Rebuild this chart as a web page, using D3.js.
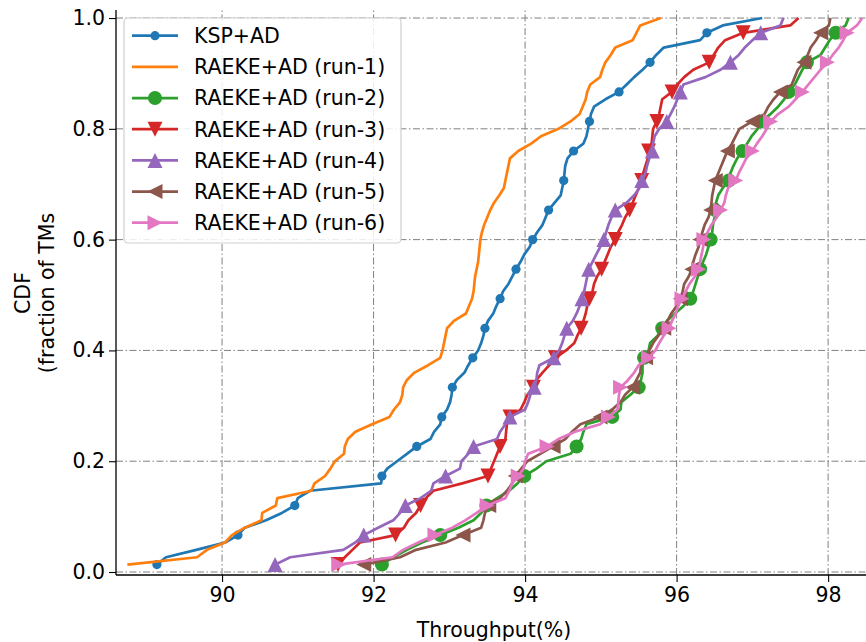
<!DOCTYPE html>
<html>
<head>
<meta charset="utf-8">
<script src="https://cdn.jsdelivr.net/npm/d3@7"></script>
<style>
  html, body { margin: 0; padding: 0; background: #fff; }
  svg { display: block; font-family: "DejaVu Sans", sans-serif; }
</style>
</head>
<body>
<svg id="chart" width="866" height="642"></svg>
<script>
// ---- data: sorted throughput values per TM (75 TMs each), CDF y = (i+1)/75 ----
const seriesNames = ["KSP+AD", "RAEKE+AD (run-1)", "RAEKE+AD (run-2)", "RAEKE+AD (run-3)",
                     "RAEKE+AD (run-4)", "RAEKE+AD (run-5)", "RAEKE+AD (run-6)"];

const kspAD = [89.14, 89.26, 89.66, 90.04, 90.21, 90.30, 90.58, 90.79, 90.96, 91.00,
  91.16, 92.10, 92.11, 92.18, 92.31, 92.44, 92.57, 92.75, 92.80, 92.88,
  92.90, 92.97, 93.01, 93.03, 93.04, 93.10, 93.20, 93.25, 93.31, 93.38,
  93.42, 93.45, 93.47, 93.51, 93.58, 93.62, 93.67, 93.71, 93.78, 93.83,
  93.88, 93.94, 93.99, 94.06, 94.10, 94.16, 94.23, 94.27, 94.31, 94.39,
  94.47, 94.49, 94.51, 94.52, 94.53, 94.56, 94.64, 94.77, 94.81, 94.83,
  94.85, 94.87, 94.91, 95.06, 95.24, 95.34, 95.44, 95.55, 95.65, 95.73,
  95.83, 96.31, 96.40, 96.61, 97.13];

const run1 = [88.75, 89.67, 89.80, 90.04, 90.13, 90.30, 90.52, 90.53, 90.71, 90.73,
  91.18, 91.22, 91.36, 91.43, 91.49, 91.61, 91.62, 91.66, 91.76, 91.98,
  92.21, 92.27, 92.35, 92.38, 92.39, 92.44, 92.54, 92.72, 92.88, 92.91,
  92.93, 92.95, 92.97, 93.06, 93.22, 93.26, 93.30, 93.32, 93.33, 93.34,
  93.36, 93.38, 93.39, 93.40, 93.41, 93.43, 93.46, 93.50, 93.54, 93.59,
  93.66, 93.72, 93.74, 93.76, 93.78, 93.80, 93.91, 94.08, 94.21, 94.44,
  94.60, 94.72, 94.76, 94.80, 94.82, 94.86, 94.99, 95.02, 95.06, 95.13,
  95.19, 95.42, 95.47, 95.52, 95.79];

const run2 = [92.11, 92.26, 92.44, 92.64, 92.88, 93.12, 93.32, 93.42, 93.49, 93.63,
  93.79, 93.90, 93.99, 94.15, 94.28, 94.60, 94.68, 94.74, 94.77, 94.81,
  95.15, 95.26, 95.27, 95.39, 95.50, 95.53, 95.55, 95.55, 95.57, 95.63,
  95.65, 95.75, 95.81, 95.87, 95.98, 96.09, 96.18, 96.22, 96.25, 96.28,
  96.31, 96.35, 96.39, 96.42, 96.45, 96.47, 96.48, 96.50, 96.51, 96.52,
  96.55, 96.61, 96.69, 96.71, 96.75, 96.80, 96.87, 96.93, 96.99, 97.07,
  97.11, 97.24, 97.34, 97.42, 97.48, 97.56, 97.61, 97.66, 97.72, 97.90,
  97.96, 98.02, 98.10, 98.23, 98.27];

const run3 = [91.53, 91.62, 91.72, 91.82, 92.29, 92.40, 92.46, 92.56, 92.62, 92.69,
  92.79, 93.17, 93.51, 93.55, 93.59, 93.63, 93.67, 93.74, 93.75, 93.76,
  93.80, 93.94, 93.99, 94.03, 94.11, 94.15, 94.23, 94.32, 94.40, 94.54,
  94.65, 94.69, 94.74, 94.77, 94.80, 94.82, 94.85, 94.89, 94.91, 94.95,
  95.01, 95.05, 95.09, 95.13, 95.19, 95.23, 95.28, 95.32, 95.38, 95.42,
  95.46, 95.50, 95.54, 95.56, 95.59, 95.62, 95.63, 95.67, 95.68, 95.69,
  95.74, 95.77, 95.79, 95.81, 95.94, 96.01, 96.10, 96.22, 96.43, 96.49,
  96.55, 96.64, 96.88, 97.50, 97.61];

const run4 = [90.70, 90.90, 91.60, 91.76, 91.87, 92.06, 92.26, 92.35, 92.42, 92.62,
  92.76, 92.79, 92.95, 93.14, 93.16, 93.25, 93.32, 93.63, 93.67, 93.74,
  93.80, 94.00, 94.04, 94.07, 94.12, 94.15, 94.16, 94.19, 94.38, 94.45,
  94.49, 94.52, 94.55, 94.63, 94.68, 94.72, 94.75, 94.78, 94.80, 94.82,
  94.84, 94.89, 94.94, 94.99, 95.04, 95.07, 95.10, 95.14, 95.19, 95.34,
  95.44, 95.51, 95.54, 95.59, 95.61, 95.64, 95.68, 95.69, 95.71, 95.77,
  95.87, 95.92, 95.97, 96.01, 96.05, 96.09, 96.38, 96.58, 96.71, 96.82,
  96.90, 97.00, 97.11, 97.37, 97.41];

const run5 = [91.87, 92.35, 92.56, 92.95, 93.18, 93.42, 93.45, 93.47, 93.52, 93.67,
  93.76, 93.83, 93.87, 93.95, 94.03, 94.20, 94.37, 94.53, 94.62, 94.73,
  94.99, 95.15, 95.26, 95.32, 95.42, 95.47, 95.52, 95.53, 95.59, 95.64,
  95.69, 95.76, 95.83, 95.88, 95.93, 96.00, 96.05, 96.08, 96.10, 96.16,
  96.20, 96.22, 96.25, 96.29, 96.31, 96.34, 96.37, 96.42, 96.45, 96.46,
  96.47, 96.49, 96.51, 96.55, 96.59, 96.63, 96.67, 96.73, 96.78, 96.83,
  97.00, 97.16, 97.21, 97.28, 97.37, 97.52, 97.56, 97.60, 97.68, 97.73,
  97.77, 97.84, 97.90, 98.01, 98.03];

const run6 = [91.54, 92.25, 92.39, 92.59, 92.81, 93.04, 93.21, 93.36, 93.50, 93.74,
  93.79, 93.83, 93.91, 93.98, 94.00, 94.04, 94.29, 94.44, 94.66, 94.99,
  95.10, 95.22, 95.23, 95.24, 95.26, 95.36, 95.44, 95.50, 95.63, 95.72,
  95.77, 95.83, 95.90, 95.94, 95.99, 96.02, 96.07, 96.12, 96.17, 96.24,
  96.29, 96.31, 96.33, 96.35, 96.36, 96.41, 96.46, 96.53, 96.58, 96.63,
  96.65, 96.68, 96.78, 96.82, 96.87, 96.92, 97.00, 97.06, 97.13, 97.19,
  97.24, 97.34, 97.48, 97.57, 97.66, 97.74, 97.82, 97.90, 97.99, 98.06,
  98.14, 98.20, 98.25, 98.38, 98.45];

const seriesValues = [kspAD, run1, run2, run3, run4, run5, run6];
const xTickValues = [90, 92, 94, 96, 98];
const yTickValues = [0.0, 0.2, 0.4, 0.6, 0.8, 1.0];
const xLabel = "Throughput(%)";
const yLabelLines = ["CDF", "(fraction of TMs"];

// ---- styles ----
const colors = ["#1f77b4", "#ff7f0e", "#2ca02c", "#d62728", "#9467bd", "#8c564b", "#e377c2"];
const markers = ["dot", "none", "circle", "tdown", "tup", "tleft", "tright"];
const markEvery = 4;
const FONT = 20.5;

const svg = d3.select("#chart");
const W = 866, H = 642;
svg.append("rect").attr("width", W).attr("height", H).attr("fill", "#fff");

const x = d3.scaleLinear().domain([88.6, 98.5]).range([116, 866]);
const y = d3.scaleLinear().domain([-0.0054, 1.0145]).range([575, 10]);

// grid
const grid = svg.append("g");
xTickValues.forEach(v => {
  grid.append("line").attr("x1", x(v)).attr("x2", x(v)).attr("y1", y.range()[0]).attr("y2", y.range()[1])
    .attr("stroke", "#808080").attr("stroke-width", 1).attr("stroke-dasharray", "7,2.5,1.5,2.5");
});
yTickValues.forEach(v => {
  grid.append("line").attr("x1", x.range()[0]).attr("x2", x.range()[1]).attr("y1", y(v)).attr("y2", y(v))
    .attr("stroke", "#808080").attr("stroke-width", 1).attr("stroke-dasharray", "7,2.5,1.5,2.5");
});

// axes
const xAxis = svg.append("g").attr("transform", `translate(0,${y.range()[0]})`)
  .call(d3.axisBottom(x).tickValues(xTickValues).tickSize(7).tickPadding(5).tickFormat(d3.format("d")));
const yAxis = svg.append("g").attr("transform", `translate(${x.range()[0]},0)`)
  .call(d3.axisLeft(y).tickValues(yTickValues).tickSize(7).tickPadding(4).tickFormat(d3.format(".1f")));
[xAxis, yAxis].forEach(a => {
  a.selectAll("text").attr("font-size", FONT).attr("font-family", "DejaVu Sans").attr("fill", "#000");
  a.selectAll("line").attr("stroke", "#000").attr("stroke-width", 1.1);
  a.select(".domain").attr("stroke", "#000").attr("stroke-width", 1.3).attr("d", null);
});
xAxis.select(".domain").attr("d", `M${x.range()[0]},0H${x.range()[1]}`);
yAxis.select(".domain").attr("d", `M0,0V${y.range()[1] - y.range()[0]}`).attr("transform", `translate(0,${y.range()[0]})`);

// axis labels
svg.append("text").attr("x", 494).attr("y", 637).attr("text-anchor", "middle")
  .attr("font-size", FONT).attr("fill", "#000").text(xLabel);
const yl = svg.append("text").attr("transform", `translate(30,293) rotate(-90)`)
  .attr("text-anchor", "middle").attr("font-size", FONT).attr("fill", "#000");
yLabelLines.forEach((t, i) => yl.append("tspan").attr("x", 0).attr("dy", i === 0 ? 0 : "1.17em").text(t));

// marker drawing
function drawMarker(g, type, cx, cy, color) {
  const s = 7.5;
  if (type === "dot") {
    g.append("circle").attr("cx", cx).attr("cy", cy).attr("r", 4.6).attr("fill", color);
  } else if (type === "circle") {
    g.append("circle").attr("cx", cx).attr("cy", cy).attr("r", 7).attr("fill", color);
  } else if (type !== "none") {
    let p;
    if (type === "tup") p = [[0, -s], [s, s], [-s, s]];
    if (type === "tdown") p = [[0, s], [s, -s], [-s, -s]];
    if (type === "tleft") p = [[-s, 0], [s, -s], [s, s]];
    if (type === "tright") p = [[s, 0], [-s, -s], [-s, s]];
    g.append("path").attr("d", "M" + p.map(q => [cx + q[0], cy + q[1]].join(",")).join("L") + "Z")
      .attr("fill", color);
  }
}

// series
const line = d3.line().x(d => x(d[0])).y(d => y(d[1]));
seriesValues.forEach((vals, k) => {
  const n = vals.length;
  const pts = vals.map((v, i) => [v, (i + 1) / n]);
  const g = svg.append("g");
  g.append("path").datum(pts).attr("d", line).attr("fill", "none")
    .attr("stroke", colors[k]).attr("stroke-width", 2.7).attr("stroke-linejoin", "round").attr("stroke-linecap", "butt");
  pts.forEach((p, i) => {
    if (i % markEvery === 0) drawMarker(g, markers[k], x(p[0]), y(p[1]), colors[k]);
  });
});

// legend
const lg = svg.append("g");
lg.append("rect").attr("x", 124).attr("y", 18).attr("width", 277).attr("height", 225)
  .attr("rx", 4).attr("fill", "#fff").attr("fill-opacity", 0.85).attr("stroke", "#d0d0d0").attr("stroke-width", 1.2);
seriesNames.forEach((name, k) => {
  const cy = 35.7 + k * 31.17;
  lg.append("line").attr("x1", 132).attr("x2", 178).attr("y1", cy).attr("y2", cy)
    .attr("stroke", colors[k]).attr("stroke-width", 2.7);
  drawMarker(lg, markers[k], 155, cy, colors[k]);
  lg.append("text").attr("x", 194).attr("y", cy).attr("dy", "0.36em")
    .attr("font-size", FONT).attr("fill", "#000").text(name);
});
</script>
</body>
</html>
